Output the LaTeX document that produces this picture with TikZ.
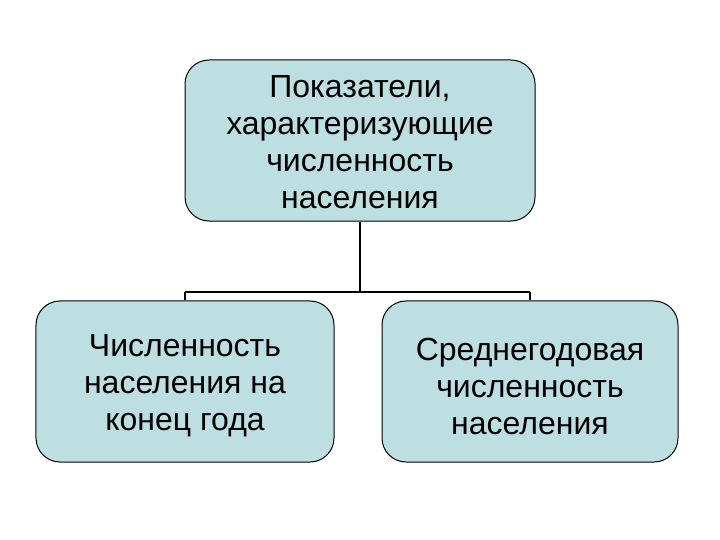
\documentclass[tikz,border=0pt]{standalone}
\usepackage{fontspec}
\setmainfont{Liberation Sans}
\definecolor{boxfill}{HTML}{BDDFE2}
\begin{document}
\begin{tikzpicture}[x=1bp,y=-1bp,
  box/.style={draw=black, line width=1bp, fill=boxfill, rounded corners=24bp, inner sep=0pt},
  txt/.style={align=center, font=\fontsize{32bp}{37bp}\selectfont, inner sep=0pt},
  conn/.style={draw=black, line width=2bp}]
\useasboundingbox (0,0) rectangle (720,540);
\node[box, minimum width=350bp, minimum height=161bp] (top) at (360,140.5) {};
\node[txt] (toptxt) at (360,142) {Показатели,\\характеризующие\\численность\\населения};
\node[box, minimum width=298bp, minimum height=161bp] (left) at (185,381.5) {};
\node[txt] (lefttxt) at (185,386) {Численность\\населения на\\конец года};
\node[box, minimum width=296bp, minimum height=161bp] (right) at (530,381.5) {};
\node[txt] (righttxt) at (530,386) {Среднегодовая\\численность\\населения};
\coordinate (j) at (360,292);
\coordinate (jl) at (185,292);
\coordinate (jr) at (530,292);
\draw[conn] (top.south) -- (j);
\draw[conn] (jl) -- (jr);
\draw[conn] (jl) -- (left.north);
\draw[conn] (jr) -- (right.north);
\end{tikzpicture}
\end{document}
